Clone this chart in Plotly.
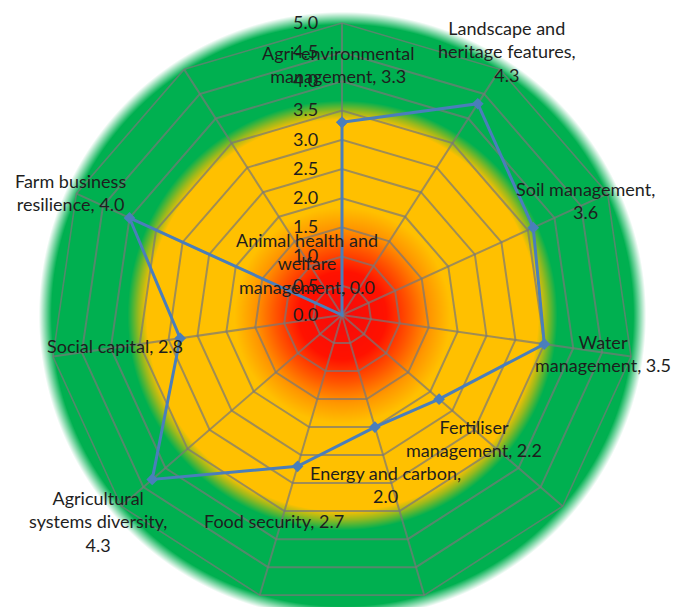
import base64
import struct
import zlib

import numpy as np
import plotly.graph_objects as go

# Scores per sustainability theme, listed clockwise from the top spoke
categories = [
    "Agri-environmental management",
    "Landscape and heritage features",
    "Soil management",
    "Water management",
    "Fertiliser management",
    "Energy and carbon",
    "Food security",
    "Agricultural systems diversity",
    "Social capital",
    "Farm business resilience",
    "Animal health and welfare management",
]
scores = [3.3, 4.3, 3.6, 3.5, 2.2, 2.0, 2.7, 4.3, 2.8, 4.0, 0.0]

# Wrapped data-label text ({v} is replaced by the score)
label_templates = [
    "Agri-environmental<br>management, {v}",
    "Landscape and<br>heritage features,<br>{v}",
    "Soil management,<br>{v}",
    "Water<br>management, {v}",
    "Fertiliser<br>management, {v}",
    "Energy and carbon,<br>{v}",
    "Food security, {v}",
    "Agricultural<br>systems diversity,<br>{v}",
    "Social capital, {v}",
    "Farm business<br>resilience, {v}",
    "Animal health and<br>welfare<br>management, {v}",
]
# Pixel nudges of each data label away from its marker (right, down)
label_nudges = [(-4, -58), (29, -52), (52, -27), (59, 9), (35, 39), (11, 57),
                (-24, 55), (-54, 42), (-65, 8), (-59, -25), (-35, -52)]

radial_ticks = [i * 0.5 for i in range(11)]

W, H = 680, 607
CX, CY = 342, 315          # chart centre in pixels
R_PX = 292                 # pixel radius of the 5.0 ring
R_MAX = 5.0
LINE_COLOR = "#4A7EBB"
FONT = "Lato"
TEXT_COLOR = "#1E1E1E"
FONT_SIZE = 18


def png_data_uri(rgba):
    h, w, _ = rgba.shape
    raw = b"".join(b"\x00" + rgba[y].tobytes() for y in range(h))

    def chunk(tag, data):
        c = struct.pack(">I", len(data)) + tag + data
        return c + struct.pack(">I", zlib.crc32(tag + data) & 0xFFFFFFFF)

    png = b"\x89PNG\r\n\x1a\n"
    png += chunk(b"IHDR", struct.pack(">IIBBBBB", w, h, 8, 6, 0, 0, 0))
    png += chunk(b"IDAT", zlib.compress(raw, 9))
    png += chunk(b"IEND", b"")
    return "data:image/png;base64," + base64.b64encode(png).decode()


# Red -> orange -> amber -> green backdrop, in score units from the centre
stops = [
    (0.0, (245, 10, 10)),
    (0.75, (255, 18, 0)),
    (1.15, (255, 85, 0)),
    (1.5, (255, 150, 0)),
    (1.85, (255, 192, 0)),
    (3.35, (255, 192, 0)),
    (3.5, (150, 185, 30)),
    (3.68, (0, 176, 80)),
    (6.0, (0, 176, 80)),
]
yy, xx = np.mgrid[0:H, 0:W].astype(float)
rr = np.hypot(xx - CX, yy - CY) / R_PX * R_MAX
sp = [s[0] for s in stops]
img = np.zeros((H, W, 4), dtype=np.uint8)
for ch in range(3):
    img[..., ch] = np.interp(rr, sp, [s[1][ch] for s in stops]).round().astype(np.uint8)
alpha = np.clip((5.2 - rr) / 0.22, 0, 1)
img[..., 3] = (alpha * 255).round().astype(np.uint8)
backdrop = png_data_uri(img)

theta_closed = categories + [categories[0]]
r_closed = scores + [scores[0]]

fig = go.Figure()
fig.add_trace(go.Scatterpolar(
    r=r_closed,
    theta=theta_closed,
    mode="lines+markers",
    line=dict(color=LINE_COLOR, width=3),
    marker=dict(symbol="diamond", size=9, color=LINE_COLOR),
    hoverinfo="skip",
    showlegend=False,
))

# Data labels anchored on each marker position
n = len(categories)
annotations = []
for i, (v, tpl, (nx, ny)) in enumerate(zip(scores, label_templates, label_nudges)):
    ang = 2 * np.pi * i / n
    px = CX + v / R_MAX * R_PX * np.sin(ang)
    py = CY - v / R_MAX * R_PX * np.cos(ang)
    annotations.append(dict(
        x=px / W, y=1 - py / H, xref="paper", yref="paper",
        text=tpl.format(v=f"{v:.1f}"),
        showarrow=False, xanchor="center", yanchor="middle",
        xshift=nx, yshift=-ny, align="center",
        font=dict(family=FONT, size=FONT_SIZE, color=TEXT_COLOR),
    ))

grid_color = "rgba(120,120,120,0.7)"
fig.update_layout(
    width=W, height=H,
    margin=dict(l=0, r=0, t=0, b=0),
    paper_bgcolor="white",
    images=[dict(source=backdrop, xref="paper", yref="paper", x=0, y=1,
                 sizex=1, sizey=1, sizing="stretch", layer="below",
                 xanchor="left", yanchor="top")],
    polar=dict(
        domain=dict(x=[(CX - R_PX) / W, (CX + R_PX) / W],
                    y=[(H - CY - R_PX) / H, (H - CY + R_PX) / H]),
        bgcolor="rgba(0,0,0,0)",
        gridshape="linear",
        radialaxis=dict(
            range=[0, R_MAX], tickvals=radial_ticks,
            ticktext=[f"{t:.1f}" for t in radial_ticks],
            angle=90, tickangle=90, side="counterclockwise",
            showline=False, ticks="outside", ticklen=17,
            tickcolor="rgba(0,0,0,0)",
            gridcolor=grid_color, gridwidth=1.6,
            tickfont=dict(family=FONT, size=FONT_SIZE, color=TEXT_COLOR),
        ),
        angularaxis=dict(
            rotation=90, direction="clockwise",
            showticklabels=False, ticks="",
            gridcolor=grid_color, gridwidth=1.6,
            linecolor=grid_color, linewidth=1.6,
        ),
    ),
    annotations=annotations,
)

fig.write_html("out.html")
